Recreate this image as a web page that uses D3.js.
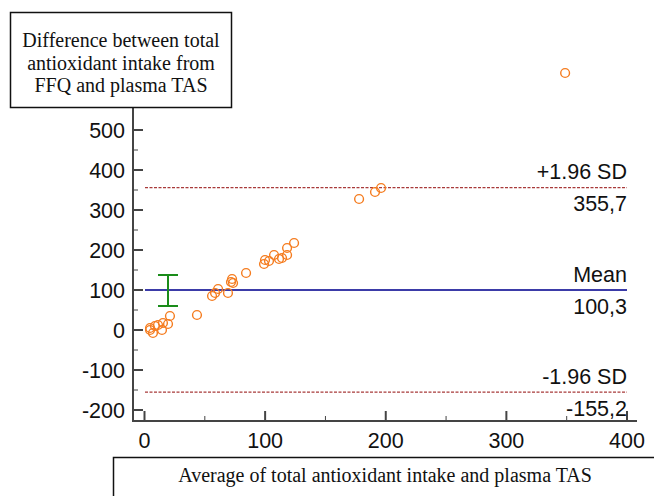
<!DOCTYPE html>
<html><head><meta charset="utf-8">
<script src="https://cdn.jsdelivr.net/npm/d3@7/dist/d3.min.js"></script>
<style>body{margin:0;background:#fff}svg{display:block}</style>
</head><body><svg id="c" width="654" height="496"></svg>
<script>
// Data
const avgValues = [348.7,196.1,191.1,177.9,124,118.2,118.2,114,111.5,107.4,103.2,99.9,99.1,84.2,72.6,73.4,71.7,69.2,61,58.5,56,43.5,21.1,19.5,15.3,11.2,8.7,4.6,7,14.5,4.6];
const diffValues = [642.5,355,345,327.5,217.5,205,187.5,180,177.5,187.5,172.5,175,165,142.5,127.5,117.5,120,92.5,102.5,92.5,85,37.5,35,15,17.5,12.5,10,0,-7.5,0,5];
const meanDiff = 100.3;
const upperLoA = 355.7;
const lowerLoA = -155.2;
const meanCI = [60, 137.5];
const meanCIx = 19.5;
const xTicks = [0,100,200,300,400];
const xMinorTicks = [50,150,250,350];
const yTicks = [-200,-100,0,100,200,300,400,500];
const yMinorTicks = [-150,-50,50,150,250,350,450];
const yTitleLines = ["Difference between total","antioxidant intake from","FFQ and plasma TAS"];
const xTitle = "Average of total antioxidant intake and plasma TAS";
const lineLabels = [
  {v: upperLoA, top: "+1.96 SD", bottom: "355,7"},
  {v: meanDiff, top: "Mean", bottom: "100,3"},
  {v: lowerLoA, top: "-1.96 SD", bottom: "-155,2"}
];

const svg = d3.select("#c");
const x = d3.scaleLinear().domain([0,400]).range([144.5,627]);
const y = d3.scaleLinear().domain([-200,500]).range([410,130]);
const axisX0 = 133, axisY0 = 421, axisRight = 637, axisTop = 20;
const axisCol = "#444";
const sans = "Liberation Sans, Arial, sans-serif";
const serif = "Liberation Serif, Times New Roman, serif";
const fs = 21.5;

// axes lines
svg.append("line").attr("x1",axisX0).attr("x2",axisX0).attr("y1",axisTop).attr("y2",axisY0+1)
  .attr("stroke",axisCol).attr("stroke-width",2);
svg.append("line").attr("x1",axisX0-1).attr("x2",axisRight).attr("y1",axisY0).attr("y2",axisY0)
  .attr("stroke",axisCol).attr("stroke-width",2);

// y ticks (inward)
svg.selectAll(".ytm").data(yTicks).join("line")
  .attr("x1",axisX0).attr("x2",axisX0+10).attr("y1",d=>y(d)).attr("y2",d=>y(d))
  .attr("stroke",axisCol).attr("stroke-width",2);
svg.selectAll(".ytn").data(yMinorTicks).join("line")
  .attr("x1",axisX0).attr("x2",axisX0+5).attr("y1",d=>y(d)).attr("y2",d=>y(d))
  .attr("stroke",axisCol).attr("stroke-width",1);
svg.selectAll(".ytl").data(yTicks).join("text")
  .attr("x",125).attr("y",d=>y(d)).attr("dy","0.36em").attr("text-anchor","end")
  .attr("font-family",sans).attr("font-size",fs).attr("fill","#111").text(d=>d);

// x ticks (inward)
svg.selectAll(".xtm").data(xTicks).join("line")
  .attr("x1",d=>x(d)).attr("x2",d=>x(d)).attr("y1",axisY0).attr("y2",axisY0-10)
  .attr("stroke",axisCol).attr("stroke-width",2);
svg.selectAll(".xtn").data(xMinorTicks).join("line")
  .attr("x1",d=>x(d)).attr("x2",d=>x(d)).attr("y1",axisY0).attr("y2",axisY0-5)
  .attr("stroke",axisCol).attr("stroke-width",1);
svg.selectAll(".xtl").data(xTicks).join("text")
  .attr("x",d=>x(d)).attr("y",440).attr("dy","0.36em").attr("text-anchor","middle")
  .attr("font-family",sans).attr("font-size",fs).attr("fill","#111").text(d=>d);

// reference lines
const lx1 = 145, lx2 = 627;
svg.append("line").attr("x1",lx1).attr("x2",lx2).attr("y1",y(meanDiff)).attr("y2",y(meanDiff))
  .attr("stroke","#3b3ba8").attr("stroke-width",2);
[upperLoA, lowerLoA].forEach(v=>{
  svg.append("line").attr("x1",lx1).attr("x2",lx2).attr("y1",y(v)).attr("y2",y(v))
    .attr("stroke","#a83a3a").attr("stroke-width",1.2).attr("stroke-dasharray","3,1.5");
});
lineLabels.forEach(l=>{
  svg.append("text").attr("x",627).attr("y",y(l.v)-16).attr("dy","0.36em").attr("text-anchor","end")
    .attr("font-family",sans).attr("font-size",fs).attr("fill","#111").text(l.top);
  svg.append("text").attr("x",627).attr("y",y(l.v)+16).attr("dy","0.36em").attr("text-anchor","end")
    .attr("font-family",sans).attr("font-size",fs).attr("fill","#111").text(l.bottom);
});

// CI of mean (green)
const gc = "#1a8c1a";
const cx = x(meanCIx);
svg.append("line").attr("x1",cx).attr("x2",cx).attr("y1",y(meanCI[0])).attr("y2",y(meanCI[1]))
  .attr("stroke",gc).attr("stroke-width",2);
meanCI.forEach(v=>{
  svg.append("line").attr("x1",cx-10).attr("x2",cx+10).attr("y1",y(v)).attr("y2",y(v))
    .attr("stroke",gc).attr("stroke-width",2);
});

// points
svg.selectAll(".pt").data(avgValues.map((a,i)=>[a,diffValues[i]])).join("circle")
  .attr("cx",d=>x(d[0])).attr("cy",d=>y(d[1])).attr("r",4.4)
  .attr("fill","none").attr("stroke","#f57c1f").attr("stroke-width",1.4);

// y title box
svg.append("rect").attr("x",10.5).attr("y",12.5).attr("width",221).attr("height",95)
  .attr("fill","#fff").attr("stroke","#111").attr("stroke-width",1.5);
yTitleLines.forEach((t,i)=>{
  svg.append("text").attr("x",121).attr("y",40+i*22.5).attr("dy","0.35em").attr("text-anchor","middle")
    .attr("font-family",serif).attr("font-size",20).attr("fill","#111").text(t);
});

// x title box
svg.append("rect").attr("x",113.5).attr("y",457.5).attr("width",560).attr("height",60)
  .attr("fill","#fff").attr("stroke","#111").attr("stroke-width",1.5);
svg.append("text").attr("x",385).attr("y",475).attr("dy","0.35em").attr("text-anchor","middle")
  .attr("font-family",serif).attr("font-size",20).attr("fill","#111").text(xTitle);
</script></body></html>
